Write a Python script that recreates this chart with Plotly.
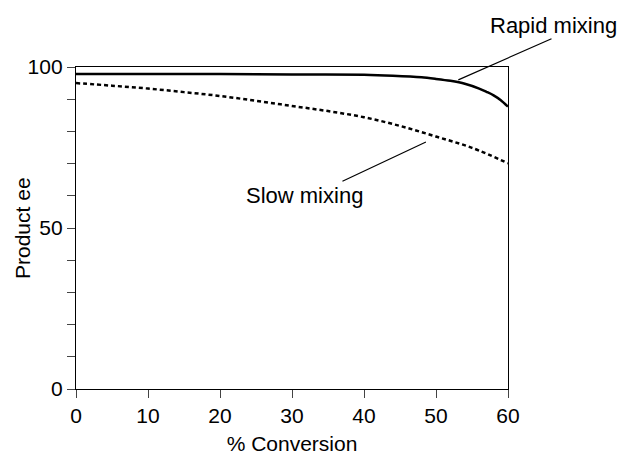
import plotly.graph_objects as go

conv_rapid = [0, 10, 20, 30, 40, 44, 48, 50, 52, 54, 56, 57, 58, 59, 60]
ee_rapid = [97.8, 97.8, 97.8, 97.7, 97.6, 97.3, 96.8, 96.3, 95.7, 94.8, 93.3, 92.3, 91.2, 89.7, 87.7]

conv_slow = [0, 5, 10, 15, 20, 25, 30, 35, 40, 45, 50, 55, 60]
ee_slow = [95.0, 94.2, 93.3, 92.2, 91.0, 89.5, 87.9, 86.3, 84.4, 81.7, 78.4, 74.9, 70.1]

y_ticks = [0, 10, 20, 30, 40, 50, 60, 70, 80, 90, 100]
y_labels = ["0", "", "", "", "", "50", "", "", "", "", "100"]
x_ticks = [0, 10, 20, 30, 40, 50, 60]

font = dict(family="Liberation Sans, Arial, sans-serif", size=21, color="black")
label_font = dict(family="Liberation Sans, Arial, sans-serif", size=22, color="black")

fig = go.Figure()
fig.add_trace(go.Scatter(x=conv_rapid, y=ee_rapid, mode="lines", line_shape="spline",
                         line=dict(color="black", width=2.5, smoothing=0.8), showlegend=False))
fig.add_trace(go.Scatter(x=conv_slow, y=ee_slow, mode="lines", line_shape="spline",
                         line=dict(color="black", width=2.5, dash="4px,3px", smoothing=1.0),
                         showlegend=False))

# leader lines
fig.add_annotation(x=53.1, y=96.0, ax=66.25, ay=109.0, axref="x", ayref="y", xref="x", yref="y",
                   text="", showarrow=True, arrowhead=0, arrowwidth=1.2, arrowcolor="black")
fig.add_annotation(x=48.6, y=76.7, ax=36.8, ay=64.3, axref="x", ayref="y", xref="x", yref="y",
                   text="", showarrow=True, arrowhead=0, arrowwidth=1.2, arrowcolor="black")
fig.add_annotation(x=1.106, y=1.13, xref="paper", yref="paper", text="Rapid mixing",
                   xanchor="center", yanchor="middle", showarrow=False, font=label_font)
fig.add_annotation(x=0.528, y=0.602, xref="paper", yref="paper", text="Slow mixing",
                   xanchor="center", yanchor="middle", showarrow=False, font=label_font)
# y-axis title
fig.add_annotation(x=-0.125, y=0.5, xref="paper", yref="paper", text="Product ee",
                   textangle=-90, xanchor="center", yanchor="middle", showarrow=False, font=font)

fig.update_layout(
    width=619, height=455,
    margin=dict(l=76, r=111, t=67, b=66),
    plot_bgcolor="white", paper_bgcolor="white",
    font=font,
    xaxis=dict(range=[0, 60], tickvals=x_ticks, ticks="outside", ticklen=8, tickwidth=1.2,
               showline=True, linecolor="black", linewidth=1.3, mirror=True, showgrid=False,
               zeroline=False, automargin=False,
               title=dict(text="% Conversion", font=font, standoff=14)),
    yaxis=dict(range=[0, 100], tickvals=y_ticks, ticktext=y_labels, ticks="outside", ticklen=8,
               tickwidth=1.2, showline=True, linecolor="black", linewidth=1.3, mirror=True,
               showgrid=False, zeroline=False, automargin=False),
)

fig.write_html("out.html")
